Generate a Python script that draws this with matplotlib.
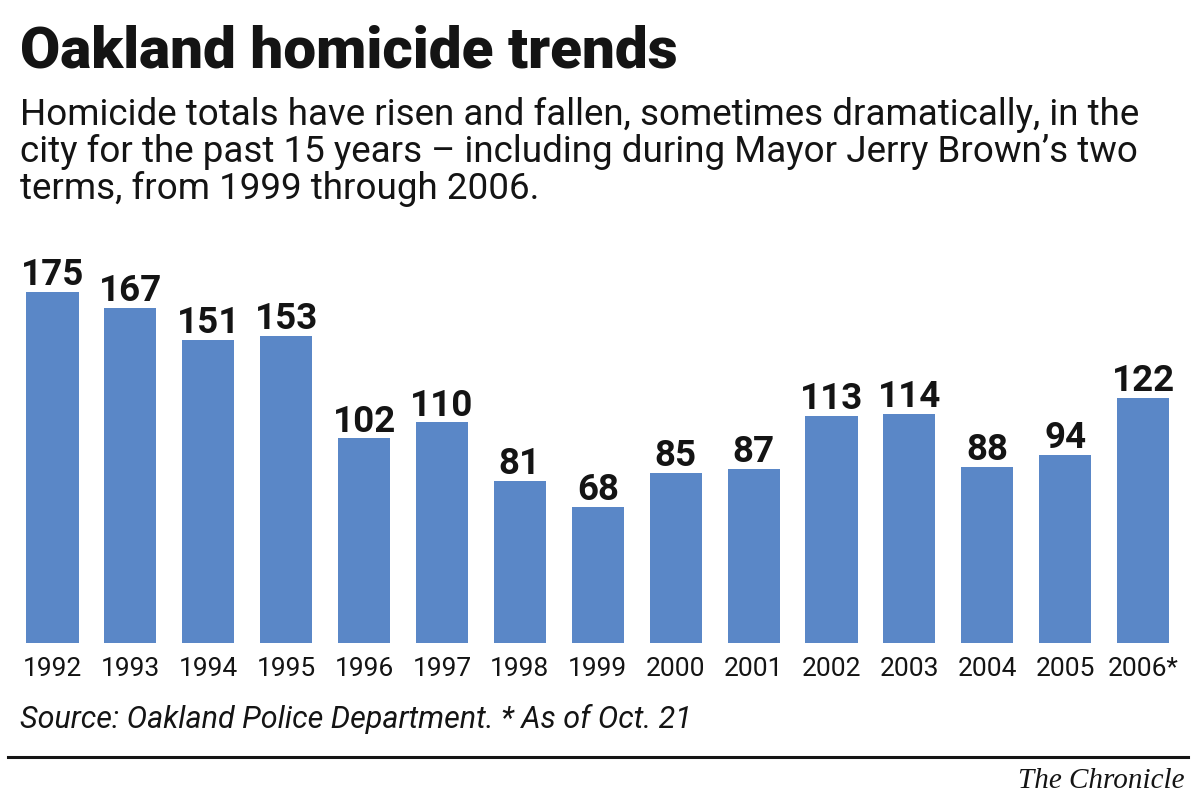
import matplotlib
matplotlib.use("Agg")
import matplotlib.pyplot as plt
from matplotlib.lines import Line2D

# data
years = ["1992", "1993", "1994", "1995", "1996", "1997", "1998", "1999",
         "2000", "2001", "2002", "2003", "2004", "2005", "2006*"]
homicides = [175, 167, 151, 153, 102, 110, 81, 68, 85, 87, 113, 114, 88, 94, 122]

title = "Oakland homicide trends"
subtitle_lines = [
    "Homicide totals have risen and fallen, sometimes dramatically, in the",
    "city for the past 15 years \u2013 including during Mayor Jerry Brown\u2019s two",
    "terms, from 1999 through 2006.",
]
source = "Source: Oakland Police Department. * As of Oct. 21"
credit = "The Chronicle"

bar_color = "#5a87c7"
ink = "#141414"
sans = ["Roboto", "DejaVu Sans"]
serif = ["Liberation Serif", "DejaVu Serif"]

W, H = 1200, 805
fig = plt.figure(figsize=(W / 100, H / 100), dpi=100)

def px(x, y):
    # pixel position (from top-left) -> figure fraction
    return x / W, 1 - y / H

# bars: baseline at y=643 px, ~2.005 px per homicide,
# first bar centred at x=52.5 px, 77.9 px between bars
base_y, top_y = 643, 230
per_unit, first_x, step = 2.005, 52.5, 77.9
ax = fig.add_axes([0, 1 - base_y / H, 1, (base_y - top_y) / H])
x = list(range(len(years)))
ax.bar(x, homicides, width=0.67, color=bar_color, edgecolor="none")
ax.set_xlim(-first_x / step, (W - first_x) / step)
ax.set_ylim(0, (base_y - top_y) / per_unit)
ax.axis("off")

for xi, v in zip(x, homicides):
    ax.annotate(str(v), (xi, v), xytext=(0, 5), textcoords="offset points",
                ha="center", va="baseline", fontsize=26.5, fontweight="bold",
                family=sans, color=ink)
    ax.annotate(years[xi], (xi, 0), xytext=(0, -23.5), textcoords="offset points",
                ha="center", va="baseline", fontsize=19, family=sans, color=ink)

fig.text(*px(20, 67), title, fontsize=42, fontweight="heavy", family=sans,
         color=ink, va="baseline", ha="left")
for i, line in enumerate(subtitle_lines):
    fig.text(*px(20, 125 + 37 * i), line, fontsize=26.5, family=sans, color=ink,
             va="baseline", ha="left")
fig.text(*px(20, 728), source, fontsize=22, family=sans, style="italic",
         color=ink, va="baseline", ha="left")

fig.add_artist(Line2D([8 / W, 1188 / W], [1 - 757 / H, 1 - 757 / H],
                      transform=fig.transFigure, color=ink, linewidth=2.2))
fig.text(*px(1184, 788), credit, fontsize=21, family=serif,
         style="italic", color=ink, va="baseline", ha="right")

fig.savefig("out.png", dpi=100, facecolor="white")
